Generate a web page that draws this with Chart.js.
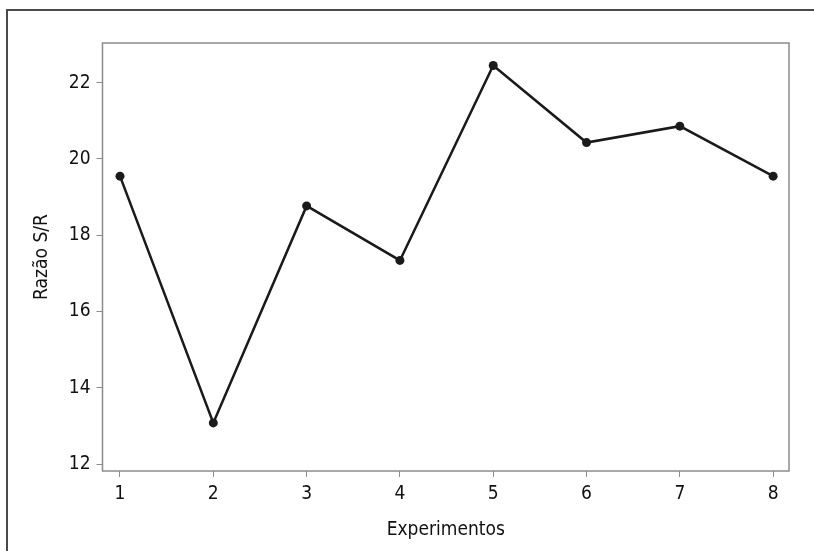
<!DOCTYPE html>
<html>
<head>
<meta charset="utf-8">
<script src="https://cdn.jsdelivr.net/npm/chart.js@4"></script>
<style>
  html, body { margin: 0; padding: 0; background: #fff; }
  #wrap { width: 814px; height: 551px; }
</style>
</head>
<body>
<div id="wrap"><canvas id="myChart" width="814" height="551"></canvas></div>
<script>
const experiments = [1, 2, 3, 4, 5, 6, 7, 8];
const ratios = [19.55, 13.08, 18.77, 17.34, 22.45, 20.43, 20.86, 19.55];
const yTicks = [12, 14, 16, 18, 20, 22];
const xTicks = [1, 2, 3, 4, 5, 6, 7, 8];

const fontFamily = "'Liberation Sans Narrow', 'DejaVu Sans Condensed', 'Liberation Sans', Arial, sans-serif";

// boxes around the plot and the whole figure
const frames = {
  id: 'frames',
  afterDraw(chart) {
    const { ctx, chartArea } = chart;
    ctx.save();
    ctx.strokeStyle = '#8c8c8c';
    ctx.lineWidth = 1.5;
    ctx.strokeRect(chartArea.left, chartArea.top, chartArea.right - chartArea.left, chartArea.bottom - chartArea.top);
    ctx.strokeStyle = '#4a4a4a';
    ctx.lineWidth = 2;
    ctx.strokeRect(7, 10, 900, 700);
    ctx.restore();
  }
};

const ctx = document.getElementById('myChart');

new Chart(ctx, {
  type: 'line',
  data: {
    datasets: [{
      data: experiments.map((e, i) => ({ x: e, y: ratios[i] })),
      borderColor: '#1a1a1a',
      backgroundColor: '#1a1a1a',
      borderWidth: 2.5,
      pointRadius: 4.5,
      pointBorderWidth: 0,
      pointBackgroundColor: '#1a1a1a',
      tension: 0,
      fill: false,
      clip: false
    }]
  },
  options: {
    responsive: false,
    animation: false,
    events: [],
    layout: { padding: { top: 43, right: 25, left: 0, bottom: 0 } },
    plugins: { legend: { display: false }, tooltip: { enabled: false } },
    scales: {
      x: {
        type: 'linear',
        min: 0.8125,
        max: 8.17,
        afterBuildTicks: s => { s.ticks = xTicks.map(v => ({ value: v })); },
        afterFit: s => { s.height = 80; },
        border: { display: false },
        grid: { drawOnChartArea: false, drawTicks: true, tickLength: 6, color: '#8c8c8c', lineWidth: 1 },
        ticks: { color: '#111', padding: 6, maxRotation: 0, font: { family: fontFamily, size: 19 } },
        title: { display: true, text: 'Experimentos', color: '#111', padding: { top: 0, bottom: 10 }, font: { family: fontFamily, size: 19 } }
      },
      y: {
        type: 'linear',
        min: 11.82,
        max: 23.04,
        afterBuildTicks: s => { s.ticks = yTicks.map(v => ({ value: v })); },
        afterFit: s => { s.width = 102.5; },
        border: { display: false },
        grid: { drawOnChartArea: false, drawTicks: true, tickLength: 6, color: '#8c8c8c', lineWidth: 1 },
        ticks: { color: '#111', padding: 6, font: { family: fontFamily, size: 19 } },
        title: { display: true, text: 'Razão S/R', color: '#111', padding: { top: 31, bottom: 0 }, font: { family: fontFamily, size: 19 } }
      }
    }
  },
  plugins: [frames]
});
</script>
</body>
</html>
